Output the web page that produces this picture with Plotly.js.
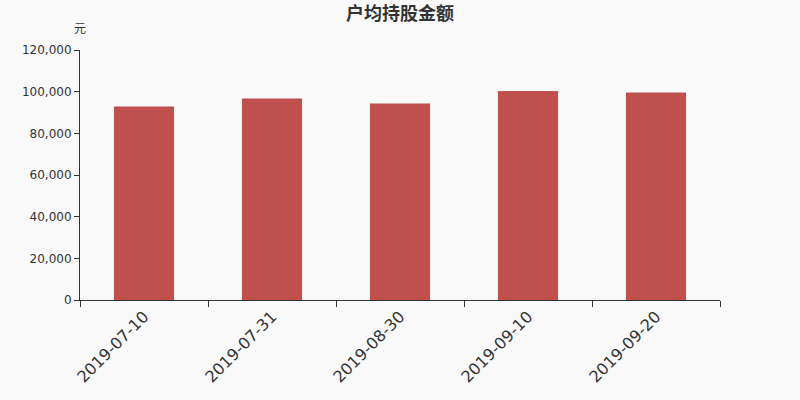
<!DOCTYPE html>
<html>
<head>
<meta charset="utf-8">
<script src="https://cdn.plot.ly/plotly-3.0.1.min.js"></script>
<style>
  html, body { margin: 0; padding: 0; background: #f9f9f9; }
  #chart { width: 800px; height: 400px; }
</style>
</head>
<body>
<div id="chart"></div>
<script>
// 户均持股金额 (元)
var fechas = ['2019-07-10', '2019-07-31', '2019-08-30', '2019-09-10', '2019-09-20'];
var montos = [92880, 96720, 94320, 100320, 99600];
var ticksY = [0, 20000, 40000, 60000, 80000, 100000, 120000];
var etiquetasY = ['0', '20,000', '40,000', '60,000', '80,000', '100,000', '120,000'];

var fuente = 'DejaVu Sans, "Noto Sans CJK SC", sans-serif';

var traza = {
    type: 'bar',
    x: fechas,
    y: montos,
    marker: { color: '#c0504d' },
    hoverinfo: 'x+y'
};

var layout = {
    width: 800,
    height: 400,
    paper_bgcolor: '#f9f9f9',
    plot_bgcolor: '#f9f9f9',
    margin: { l: 80, r: 80, t: 50, b: 100 },
    bargap: 0.53,
    showlegend: false,
    title: {
        text: '<b>户均持股金额</b>',
        font: { family: '"Noto Sans CJK SC", sans-serif', size: 18, color: '#333' },
        x: 0.5,
        xanchor: 'center',
        y: 0.967,
        yanchor: 'middle'
    },
    xaxis: {
        type: 'category',
        showline: true,
        linecolor: '#333',
        linewidth: 1,
        ticks: 'outside',
        tickson: 'boundaries',
        ticklen: 6,
        tickcolor: '#333',
        tickangle: -45,
        tickfont: { family: fuente, size: 16, color: '#333' },
        showgrid: false,
        zeroline: false
    },
    yaxis: {
        range: [0, 120000],
        tickvals: ticksY,
        ticktext: etiquetasY,
        showline: true,
        linecolor: '#333',
        linewidth: 1,
        ticks: 'outside',
        ticklen: 5,
        tickcolor: '#333',
        tickfont: { family: fuente, size: 12, color: '#333' },
        showgrid: false,
        zeroline: false
    },
    annotations: [{
        text: '元',
        xref: 'paper',
        yref: 'paper',
        x: 0,
        y: 1.088,
        xanchor: 'center',
        yanchor: 'middle',
        showarrow: false,
        font: { family: '"Noto Sans CJK SC", sans-serif', size: 12, color: '#333' }
    }]
};

Plotly.newPlot('chart', [traza], layout, { displayModeBar: false, staticPlot: true });
</script>
</body>
</html>
